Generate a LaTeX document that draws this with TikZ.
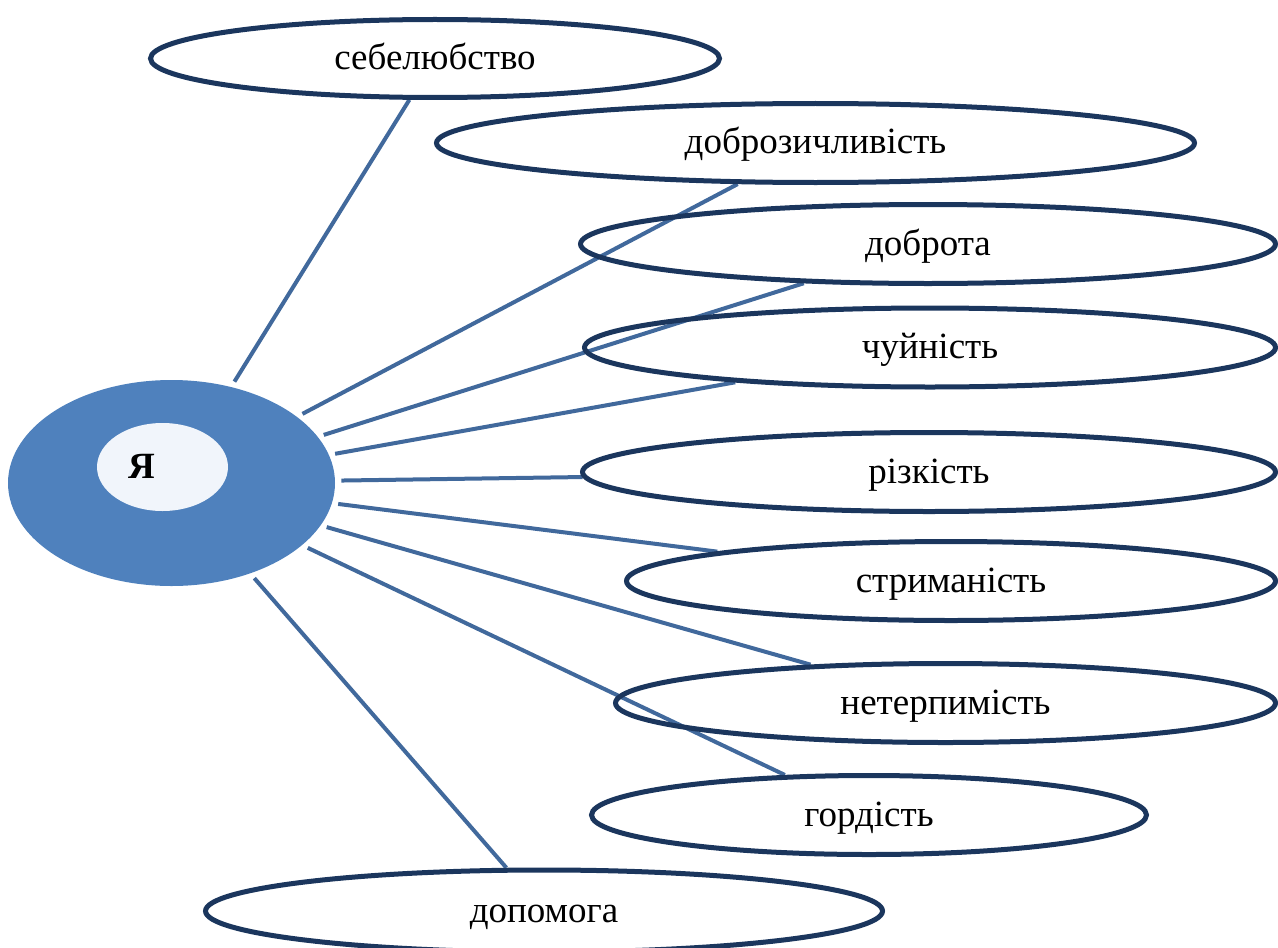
\documentclass[tikz,border=0pt]{standalone}
\usepackage{fontspec}
\setmainfont{Liberation Serif}
\usetikzlibrary{shapes.geometric,backgrounds}
\definecolor{rimblue}{HTML}{1B365D}
\definecolor{linkblue}{HTML}{41699C}
\definecolor{coreblue}{HTML}{4F81BD}
\definecolor{corepale}{HTML}{F1F5FB}
\tikzset{
  trait/.style={ellipse, draw=rimblue, line width=2.5pt, inner sep=0pt, minimum height=39.5pt, text height=15pt, text depth=4pt, font=\fontsize{18.5}{22}\selectfont},
  link/.style={draw=linkblue, line width=2pt, shorten <=3pt},
}
\begin{document}
\begin{tikzpicture}[x=0.5pt,y=-0.5pt]
\clip (0,0) rectangle (1278,947);
% centre
\node[ellipse, fill=coreblue, minimum width=163.5pt, minimum height=103pt] (core) at (171.5,483) {};
\node[ellipse, fill=corepale, minimum width=65.5pt, minimum height=44pt] (hub) at (162.5,467) {};
\node[font=\fontsize{18.5}{22}\selectfont\bfseries] (ya) at (142,466) {Я};
% traits
\node[trait, minimum width=284.5pt, minimum height=39pt] (selflove) at (435,58.5) {себелюбство};
\node[trait, minimum width=379pt] (goodwill) at (815.5,143) {доброзичливість};
\node[trait, minimum width=347.5pt] (kindness) at (928,244) {доброта};
\node[trait, minimum width=345.5pt] (empathy) at (930,347.5) {чуйність};
\node[trait, minimum width=346.5pt] (harshness) at (929,472) {різкість};
\node[trait, minimum width=324.5pt] (restraint) at (951,581) {стриманість};
\node[trait, minimum width=330pt] (intolerance) at (945.5,703) {нетерпимість};
\node[trait, minimum width=277.5pt] (pride) at (869,815) {гордість};
\node[trait, minimum width=338.5pt, minimum height=41pt] (help) at (544,911) {допомога};
\begin{scope}[on background layer]
\foreach \t in {selflove,goodwill,kindness,empathy,harshness,restraint,intolerance,pride,help}
  \draw[link] (core) -- (\t);
\end{scope}
\end{tikzpicture}
\end{document}
